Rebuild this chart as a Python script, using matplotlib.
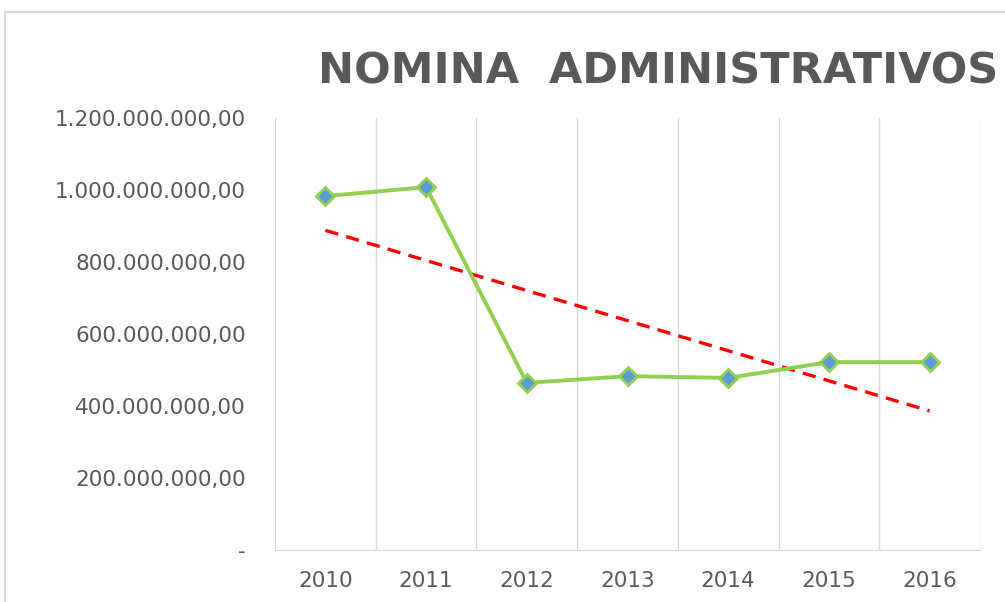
import matplotlib.pyplot as plt
import numpy as np
from matplotlib.patches import Rectangle

years = ['2010', '2011', '2012', '2013', '2014', '2015', '2016']
nomina = [983e6, 1008e6, 464e6, 483e6, 478e6, 522e6, 522e6]
ytick_values = [0, 200e6, 400e6, 600e6, 800e6, 1000e6, 1200e6]

def fmt_es(v):
    # Spanish number format, zero shown as a dash
    if v == 0:
        return '-'
    s = f'{v:,.2f}'
    return s.replace(',', 'X').replace('.', ',').replace('X', '.')

plt.rcParams['font.family'] = ['DejaVu Sans']

fig = plt.figure(figsize=(10.05, 6.02), dpi=100)
fig.patches.append(Rectangle((5 / 1005, -0.1), 1.2, (602 - 12) / 602 + 0.1,
                             transform=fig.transFigure, fill=False,
                             edgecolor='#d9d9d9', linewidth=1.5))

ax = fig.add_axes([275 / 1005, 52 / 602, 705 / 1005, 432 / 602])
x = np.arange(len(years))

# linear trend line
slope, intercept = np.polyfit(x, nomina, 1)
ax.plot(x, slope * x + intercept, color='#ff0000', linestyle=(0, (4, 2.5)),
        linewidth=2.4, zorder=2)

ax.plot(x, nomina, color='#92d050', linewidth=2.8, marker='D', markersize=9,
        markerfacecolor='#5b9bd5', markeredgecolor='#92d050',
        markeredgewidth=2, zorder=3)

ax.set_xlim(-0.5, len(years) - 0.5)
ax.set_ylim(0, 1200e6)
ax.set_yticks(ytick_values)
ax.set_yticklabels([fmt_es(v) for v in ytick_values])
ax.set_xticks(x)
ax.set_xticklabels(years)

for b in np.arange(-0.5, len(years), 1.0):
    ax.axvline(b, color='#d9d9d9', linewidth=1, zorder=0)

for side in ['top', 'right', 'left']:
    ax.spines[side].set_visible(False)
ax.spines['bottom'].set_color('#d9d9d9')
ax.tick_params(axis='both', length=0, colors='#595959', labelsize=15.5)
ax.tick_params(axis='y', pad=21)
ax.tick_params(axis='x', pad=15)

fig.text(318 / 1005, (602 - 72) / 602, 'NOMINA  ADMINISTRATIVOS', ha='left',
         va='center', fontsize=31, fontweight='bold', color='#595959')

plt.savefig('out.png', dpi=100)
